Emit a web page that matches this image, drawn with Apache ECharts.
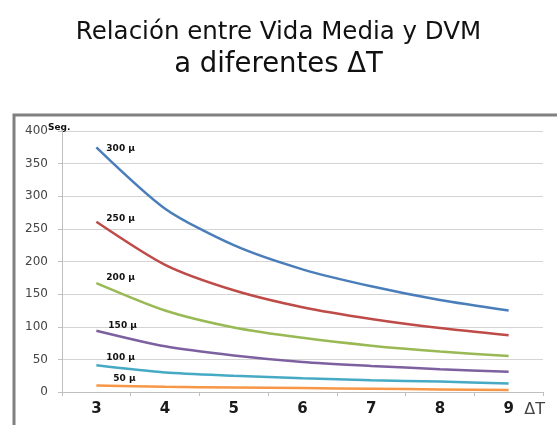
<!DOCTYPE html>
<html>
<head>
<meta charset="utf-8">
<script src="https://cdn.jsdelivr.net/npm/echarts@6/dist/echarts.min.js"></script>
<style>
html,body{margin:0;padding:0;background:#fff;}
#main{width:557px;height:425px;}
</style>
</head>
<body>
<div id="main"></div>
<script>
var deltaT = ['3', '4', '5', '6', '7', '8', '9'];
var seriesNames = ['300 μ', '250 μ', '200 μ', '150 μ', '100 μ', '50 μ'];
var v300 = [375, 281, 225, 188, 162, 141, 125];
var v250 = [261, 195, 156, 130, 112, 98, 87];
var v200 = [167, 125, 99, 83, 71, 62, 55];
var v150 = [94, 70, 56, 46, 40, 35, 31];
var v100 = [41, 30, 25, 21, 18, 16, 13];
var v50 = [10, 8, 7, 6, 5, 4, 3];
var colors = ['#4a7ebb', '#be4b48', '#98b954', '#7d60a0', '#46aac5', '#f79646'];

var allValues = [v300, v250, v200, v150, v100, v50];
// label offsets next to the first point
var labelOffsets = [[10, 1], [10, -3], [10, -5], [12, -5], [10, -8], [17, -7]];

var series = [];
for (var i = 0; i < allValues.length; i++) {
    series.push({
        name: seriesNames[i],
        type: 'line',
        smooth: 0.25,
        showSymbol: false,
        data: allValues[i],
        lineStyle: {color: colors[i], width: 2.5},
        itemStyle: {color: colors[i]},
        markPoint: {
            symbol: 'circle',
            symbolSize: 0,
            silent: true,
            data: [{
                coord: [0, allValues[i][0]],
                label: {
                    show: true,
                    position: 'right',
                    distance: 0,
                    offset: labelOffsets[i],
                    formatter: seriesNames[i],
                    color: '#111',
                    fontFamily: 'DejaVu Sans',
                    fontWeight: 'bold',
                    fontSize: 9
                }
            }]
        }
    });
}

var myChart = echarts.init(document.getElementById('main'));
var option = {
    animation: false,
    backgroundColor: '#fff',
    title: [{
        text: 'Relación entre Vida Media y DVM',
        left: 'center',
        top: 15,
        textStyle: {fontFamily: 'DejaVu Sans', fontWeight: 'normal', fontSize: 24.5, color: '#111'}
    }, {
        text: 'a diferentes ΔT',
        left: 'center',
        top: 46,
        textStyle: {fontFamily: 'DejaVu Sans', fontWeight: 'normal', fontSize: 27.5, color: '#111'}
    }],
    graphic: [{
        type: 'rect',
        shape: {x: 14, y: 115, width: 560, height: 330},
        style: {fill: 'none', stroke: '#808080', lineWidth: 3},
        z: -1
    }],
    grid: {left: 62, right: 14, top: 131, bottom: 33},
    xAxis: {
        type: 'category',
        boundaryGap: true,
        data: deltaT,
        name: 'ΔT',
        nameLocation: 'end',
        nameGap: 2,
        nameMoveOverlap: false,
        nameTextStyle: {
            align: 'right', verticalAlign: 'top', padding: [10, 0, 0, 0],
            fontFamily: 'DejaVu Sans', fontSize: 16, color: '#444'
        },
        axisLine: {lineStyle: {color: '#bfbfbf', width: 1}},
        axisTick: {show: true, length: 4, lineStyle: {color: '#bfbfbf'}},
        axisLabel: {
            margin: 10, fontFamily: 'DejaVu Sans', fontWeight: 'bold', fontSize: 15, color: '#1a1a1a'
        },
        splitLine: {show: false}
    },
    yAxis: {
        type: 'value',
        min: 0,
        max: 400,
        interval: 50,
        name: 'Seg.',
        nameLocation: 'end',
        nameGap: 3,
        nameMoveOverlap: false,
        nameTextStyle: {
            align: 'left', verticalAlign: 'middle', padding: [0, 0, 0, -14],
            fontFamily: 'DejaVu Sans', fontWeight: 'bold', fontSize: 9, color: '#111'
        },
        axisLine: {show: true, lineStyle: {color: '#bfbfbf', width: 1}},
        axisTick: {show: true, length: 4, lineStyle: {color: '#bfbfbf'}},
        axisLabel: {margin: 14, fontFamily: 'DejaVu Sans', fontSize: 12, color: '#444'},
        splitLine: {lineStyle: {color: '#d4d4d4', width: 1}}
    },
    series: series
};
myChart.setOption(option, true);
</script>
</body>
</html>
